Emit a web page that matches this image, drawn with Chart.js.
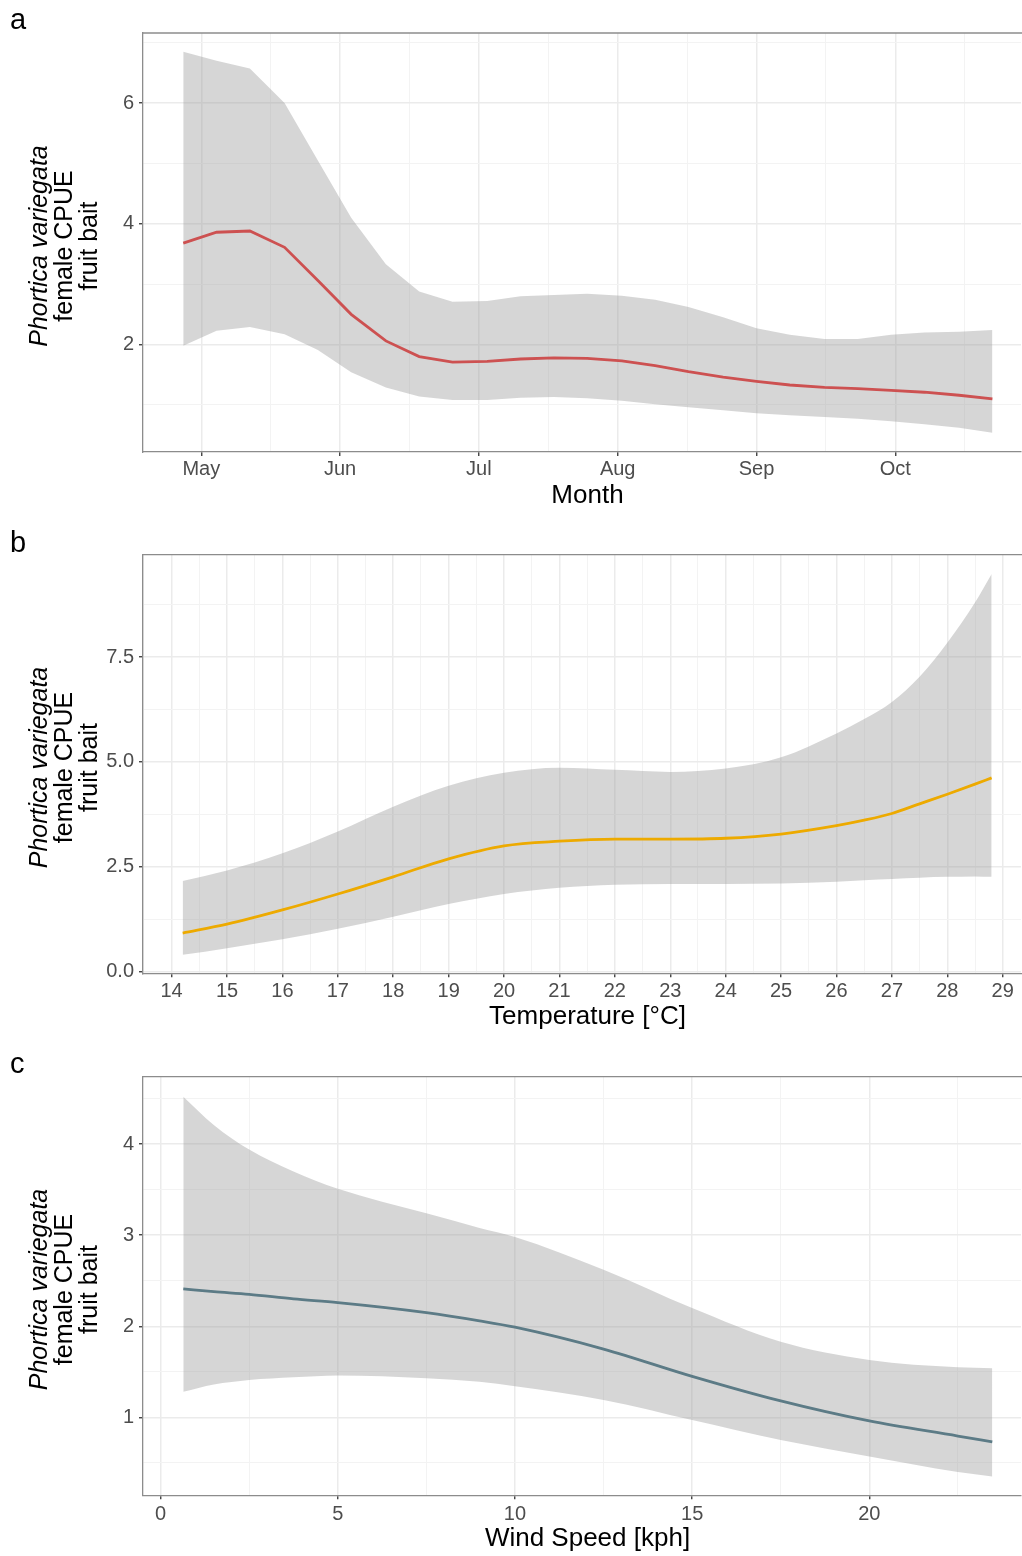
<!DOCTYPE html>
<html>
<head>
<meta charset="utf-8">
<script src="https://cdn.jsdelivr.net/npm/chart.js@4.4.0/dist/chart.umd.min.js"></script>
<style>
    body { margin: 0; background: #fff; width: 1022px; height: 1556px; position: relative; overflow: hidden; }
    .panel { position: absolute; left: 0; width: 1022px; }
</style>
</head>
<body>
<div class="panel" style="top:0;height:520px"><canvas id="chartA"></canvas></div>
<div class="panel" style="top:520px;height:525px"><canvas id="chartB"></canvas></div>
<div class="panel" style="top:1045px;height:511px"><canvas id="chartC"></canvas></div>
<script>
"use strict";

/* panel a : month (5 = May) */
var monthX = [4.87, 5.11, 5.35, 5.60, 5.84, 6.08, 6.33, 6.57, 6.81, 7.06, 7.30, 7.54, 7.78,
    8.03, 8.27, 8.51, 8.76, 9.00, 9.24, 9.49, 9.73, 9.97, 10.21, 10.46, 10.70];
var monthFit = [3.68, 3.86, 3.88, 3.61, 3.06, 2.50, 2.06, 1.80, 1.71, 1.72, 1.76, 1.78, 1.77,
    1.73, 1.65, 1.55, 1.46, 1.39, 1.33, 1.29, 1.27, 1.24, 1.21, 1.16, 1.10];
var monthUpper = [6.85, 6.70, 6.57, 6.00, 5.05, 4.10, 3.33, 2.88, 2.71, 2.72, 2.80, 2.82, 2.84,
    2.81, 2.74, 2.62, 2.45, 2.27, 2.16, 2.09, 2.09, 2.16, 2.20, 2.21, 2.24];
var monthLower = [1.98, 2.23, 2.29, 2.17, 1.91, 1.54, 1.29, 1.14, 1.08, 1.08, 1.12, 1.13, 1.11,
    1.07, 1.01, 0.96, 0.91, 0.86, 0.83, 0.80, 0.77, 0.73, 0.68, 0.62, 0.54];
var monthTicks = [5, 6, 7, 8, 9, 10];
var monthLabels = ['May', 'Jun', 'Jul', 'Aug', 'Sep', 'Oct'];
var monthMinor = [5.5, 6.5, 7.5, 8.5, 9.5, 10.5];
var cpueTicksA = [2, 4, 6];
var cpueMinorA = [1, 3, 5, 7];

/* panel b : temperature */
var tempX = [14.2, 15, 16, 17, 18, 19, 20, 21, 22, 23, 24, 25, 26, 26.5, 27, 27.5, 28, 28.5, 28.8];
var tempFit = [0.92, 1.13, 1.47, 1.85, 2.26, 2.69, 3.00, 3.11, 3.16, 3.16, 3.18, 3.28, 3.48,
    3.61, 3.77, 4.00, 4.23, 4.47, 4.62];
var tempUpper = [2.16, 2.41, 2.82, 3.34, 3.93, 4.43, 4.74, 4.86, 4.81, 4.76, 4.84, 5.11, 5.68,
    6.02, 6.43, 7.03, 7.84, 8.80, 9.48];
var tempLower = [0.40, 0.56, 0.77, 1.02, 1.31, 1.61, 1.85, 2.00, 2.07, 2.09, 2.09, 2.10, 2.14,
    2.18, 2.21, 2.24, 2.26, 2.27, 2.26];
var tempTicks = [14, 15, 16, 17, 18, 19, 20, 21, 22, 23, 24, 25, 26, 27, 28, 29];
var tempMinor = [13.5, 14.5, 15.5, 16.5, 17.5, 18.5, 19.5, 20.5, 21.5, 22.5, 23.5, 24.5, 25.5,
    26.5, 27.5, 28.5];
var cpueTicksB = [0, 2.5, 5, 7.5];
var cpueMinorB = [1.25, 3.75, 6.25, 8.75];

/* panel c : wind speed */
var windX = [0.64, 1.5, 2.5, 3.75, 5, 7.5, 9, 10, 12.5, 15, 17.5, 20, 22.5, 23.47];
var windFit = [2.41, 2.38, 2.35, 2.30, 2.26, 2.15, 2.06, 1.99, 1.75, 1.45, 1.18, 0.96, 0.795, 0.73];
var windUpper = [4.52, 4.21, 3.94, 3.70, 3.51, 3.24, 3.08, 2.98, 2.62, 2.20, 1.83, 1.63, 1.55, 1.54];
var windLower = [1.28, 1.36, 1.41, 1.44, 1.46, 1.43, 1.39, 1.34, 1.19, 0.97, 0.75, 0.57, 0.40, 0.35];
var windTicks = [0, 5, 10, 15, 20];
var windMinor = [2.5, 7.5, 12.5, 17.5, 22.5];
var cpueTicksC = [1, 2, 3, 4];
var cpueMinorC = [0.5, 1.5, 2.5, 3.5, 4.5];

var yTitle = ['Phortica variegata', 'female CPUE', 'fruit bait'];
var FONT = "'Liberation Sans', Arial, Helvetica, sans-serif";

/* titles, panel letter and top border */
var panelText = {
    id: 'panelText',
    afterDraw: function (chart, args, o) {
        var ctx = chart.ctx, a = chart.chartArea;
        ctx.save();
        ctx.strokeStyle = '#8c8c8c';
        ctx.lineWidth = 1.3;
        ctx.beginPath();
        ctx.moveTo(a.left, a.top);
        ctx.lineTo(a.right + 1, a.top);
        ctx.stroke();

        ctx.fillStyle = '#000';
        ctx.textBaseline = 'alphabetic';
        ctx.textAlign = 'left';
        ctx.font = '29px ' + FONT;
        ctx.fillText(o.letter, 10, o.letterY);

        ctx.textAlign = 'center';
        ctx.font = '26px ' + FONT;
        ctx.fillText(o.xTitle, 587.5, a.bottom + 50.5);

        var cy = (a.top + a.bottom) / 2 + 3.5;
        var bx = [46.7, 71.7, 96.7];
        yTitle.forEach(function (t, i) {
            ctx.save();
            ctx.translate(bx[i], cy);
            ctx.rotate(-Math.PI / 2);
            ctx.font = (i === 0 ? 'italic ' : '') + '25px ' + FONT;
            ctx.fillText(t, 0, 0);
            ctx.restore();
        });
        ctx.restore();
    }
};

function isMajor(list, v) {
    return list.some(function (m) { return Math.abs(m - v) < 1e-9; });
}

function tickList(major, minor) {
    return major.concat(minor).sort(function (a, b) { return a - b; }).map(function (v) {
        return { value: v };
    });
}

function makePanel(id, p) {
    var pts = function (ys) {
        return p.x.map(function (x, i) { return { x: x, y: ys[i] }; });
    };
    var gridOpts = function (major) {
        return {
            color: function (c) { return isMajor(major, c.tick.value) ? '#ebebeb' : '#f3f3f3'; },
            lineWidth: function (c) { return isMajor(major, c.tick.value) ? 1.5 : 1; },
            tickLength: 4,
            tickColor: function (c) { return isMajor(major, c.tick.value) ? '#333333' : 'rgba(0,0,0,0)'; },
            tickWidth: 1.3
        };
    };
    var interp = p.smooth ? 'monotone' : 'default';
    return new Chart(document.getElementById(id), {
        type: 'line',
        data: {
            datasets: [{
                data: pts(p.lower),
                order: 2,
                borderColor: 'rgba(0,0,0,0)',
                borderWidth: 0,
                pointRadius: 0,
                fill: false,
                cubicInterpolationMode: interp
            }, {
                data: pts(p.upper),
                order: 1,
                borderColor: 'rgba(0,0,0,0)',
                borderWidth: 0,
                pointRadius: 0,
                fill: '-1',
                backgroundColor: 'rgba(153,153,153,0.4)',
                cubicInterpolationMode: interp
            }, {
                data: pts(p.fit),
                order: 0,
                borderColor: p.color,
                borderWidth: 2.8,
                pointRadius: 0,
                fill: false,
                cubicInterpolationMode: interp
            }]
        },
        options: {
            animation: false,
            responsive: true,
            maintainAspectRatio: false,
            layout: { padding: { top: p.top, right: 1, left: 0, bottom: 0 } },
            plugins: {
                legend: { display: false },
                tooltip: { enabled: false },
                panelText: { letter: p.letter, letterY: p.letterY, xTitle: p.xTitle }
            },
            scales: {
                x: {
                    type: 'linear',
                    min: p.xMin,
                    max: p.xMax,
                    afterBuildTicks: function (s) { s.ticks = tickList(p.xTicks, p.xMinor); },
                    afterFit: function (s) { s.height = p.xAxisH; },
                    ticks: {
                        autoSkip: false,
                        maxRotation: 0,
                        padding: p.xPad,
                        color: '#4d4d4d',
                        font: { family: FONT, size: 20 },
                        callback: function (v) {
                            var i = p.xTicks.indexOf(v);
                            if (i < 0) return '';
                            return p.xLabels ? p.xLabels[i] : String(v);
                        }
                    },
                    grid: gridOpts(p.xTicks),
                    border: { display: true, color: '#8c8c8c', width: 1.3 }
                },
                y: {
                    min: p.yMin,
                    max: p.yMax,
                    afterBuildTicks: function (s) { s.ticks = tickList(p.yTicks, p.yMinor); },
                    afterFit: function (s) { s.width = 143; },
                    ticks: {
                        autoSkip: false,
                        padding: 5,
                        color: '#4d4d4d',
                        font: { family: FONT, size: 20 },
                        callback: function (v) {
                            if (!isMajor(p.yTicks, v)) return '';
                            return p.yFixed ? v.toFixed(1) : String(v);
                        }
                    },
                    grid: gridOpts(p.yTicks),
                    border: { display: true, color: '#8c8c8c', width: 1.3 }
                }
            }
        },
        plugins: [panelText]
    });
}

makePanel('chartA', {
    letter: 'a', letterY: 29, xTitle: 'Month', top: 33, xAxisH: 68, xPad: 1,
    x: monthX, fit: monthFit, upper: monthUpper, lower: monthLower,
    color: '#cd5151', smooth: false,
    xMin: 4.58, xMax: 10.906, xTicks: monthTicks, xLabels: monthLabels, xMinor: monthMinor,
    yMin: 0.22, yMax: 7.16, yTicks: cpueTicksA, yMinor: cpueMinorA
});

makePanel('chartB', {
    letter: 'b', letterY: 32, xTitle: 'Temperature [°C]', top: 34.7, xAxisH: 71.7, xPad: 2,
    x: tempX, fit: tempFit, upper: tempUpper, lower: tempLower,
    color: '#edaa00', smooth: true,
    xMin: 13.484, xMax: 29.33, xTicks: tempTicks, xMinor: tempMinor,
    yMin: -0.04, yMax: 9.94, yTicks: cpueTicksB, yMinor: cpueMinorB, yFixed: true
});

makePanel('chartC', {
    letter: 'c', letterY: 28, xTitle: 'Wind Speed [kph]', top: 31.7, xAxisH: 60.7, xPad: 3,
    x: windX, fit: windFit, upper: windUpper, lower: windLower,
    color: '#5c7b86', smooth: true,
    xMin: -0.497, xMax: 24.28, xTicks: windTicks, xMinor: windMinor,
    yMin: 0.144, yMax: 4.74, yTicks: cpueTicksC, yMinor: cpueMinorC
});
</script>
</body>
</html>
